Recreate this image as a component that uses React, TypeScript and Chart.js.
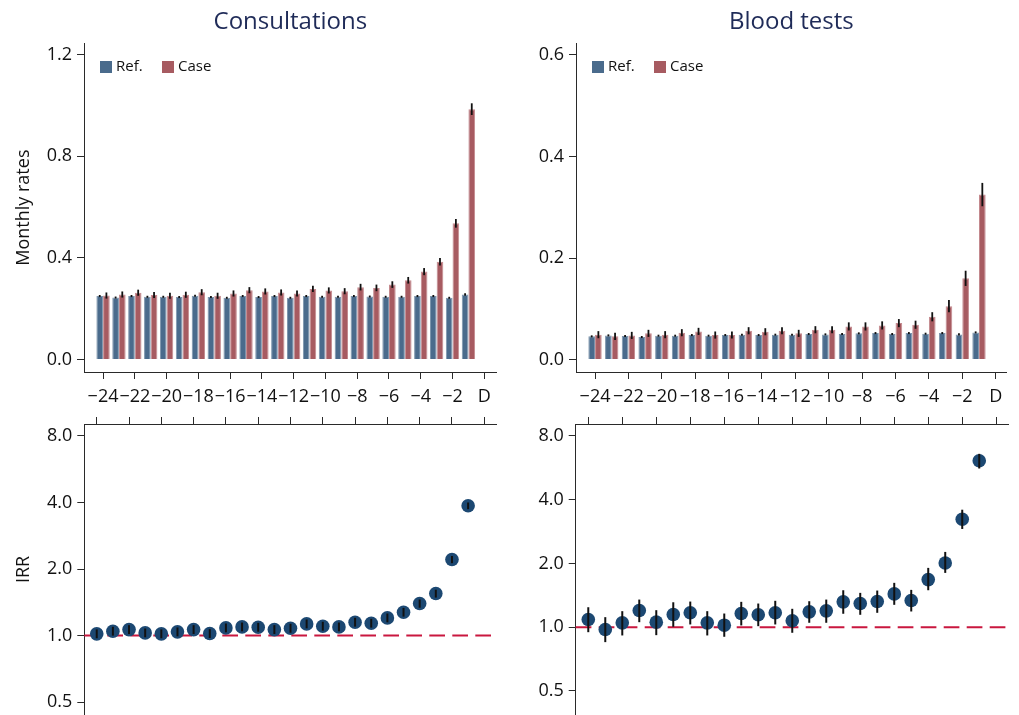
import React, { useEffect, useRef } from 'react';
import { Chart, registerables } from 'chart.js';

Chart.register(...registerables);

const FONT = "'Open Sans', 'Noto Sans', sans-serif";
Chart.defaults.font.family = FONT;

// ---------- data ----------
const months = [-24, -23, -22, -21, -20, -19, -18, -17, -16, -15, -14, -13, -12, -11, -10, -9, -8, -7, -6, -5, -4, -3, -2, -1];
const xTickValues = [-24, -22, -20, -18, -16, -14, -12, -10, -8, -6, -4, -2, 0];
const xTickLabels = ['−24', '−22', '−20', '−18', '−16', '−14', '−12', '−10', '−8', '−6', '−4', '−2', 'D'];
const consRateTicks = [0, 0.4, 0.8, 1.2];
const bloodRateTicks = [0, 0.2, 0.4, 0.6];
const irrTicks = [0.5, 1, 2, 4, 8];

const consRef = [0.250, 0.244, 0.250, 0.247, 0.247, 0.246, 0.251, 0.246, 0.243, 0.250, 0.246, 0.250, 0.243, 0.250, 0.247, 0.247, 0.250, 0.248, 0.247, 0.247, 0.250, 0.250, 0.243, 0.256];
const consRefErr = [0.004, 0.004, 0.004, 0.004, 0.004, 0.004, 0.004, 0.004, 0.004, 0.004, 0.004, 0.004, 0.004, 0.004, 0.004, 0.004, 0.004, 0.004, 0.004, 0.004, 0.004, 0.004, 0.004, 0.005];
const consCase = [0.252, 0.256, 0.263, 0.254, 0.251, 0.255, 0.265, 0.251, 0.260, 0.273, 0.268, 0.264, 0.260, 0.278, 0.272, 0.269, 0.285, 0.282, 0.295, 0.312, 0.346, 0.385, 0.536, 0.985];
const consCaseErr = [0.012, 0.012, 0.012, 0.012, 0.012, 0.012, 0.012, 0.012, 0.012, 0.012, 0.012, 0.012, 0.012, 0.012, 0.012, 0.012, 0.013, 0.013, 0.013, 0.013, 0.014, 0.015, 0.017, 0.023];

const bloodRef = [0.0457, 0.0476, 0.0463, 0.0444, 0.047, 0.047, 0.0483, 0.047, 0.0483, 0.049, 0.0483, 0.049, 0.049, 0.0503, 0.0496, 0.0503, 0.0516, 0.0522, 0.0503, 0.0522, 0.0509, 0.0522, 0.0496, 0.0535];
const bloodRefErr = [0.002, 0.002, 0.002, 0.002, 0.002, 0.002, 0.002, 0.002, 0.002, 0.002, 0.002, 0.002, 0.002, 0.002, 0.002, 0.002, 0.002, 0.002, 0.002, 0.002, 0.002, 0.002, 0.002, 0.002];
const bloodCase = [0.049, 0.0457, 0.0476, 0.0516, 0.049, 0.0529, 0.0555, 0.0483, 0.0483, 0.0568, 0.0548, 0.0568, 0.0516, 0.0588, 0.0588, 0.0653, 0.0653, 0.0673, 0.0718, 0.0686, 0.0843, 0.1052, 0.160, 0.325];
const bloodCaseErr = [0.007, 0.007, 0.007, 0.007, 0.007, 0.007, 0.007, 0.007, 0.007, 0.007, 0.007, 0.007, 0.007, 0.007, 0.007, 0.008, 0.008, 0.008, 0.008, 0.008, 0.009, 0.012, 0.015, 0.023];

const consIRR = [1.018, 1.046, 1.064, 1.028, 1.018, 1.039, 1.064, 1.021, 1.083, 1.094, 1.09, 1.064, 1.079, 1.129, 1.102, 1.094, 1.149, 1.137, 1.202, 1.275, 1.396, 1.549, 2.208, 3.864];
const consIRRLow = [0.972, 0.999, 1.016, 0.982, 0.972, 0.992, 1.016, 0.975, 1.034, 1.045, 1.041, 1.016, 1.030, 1.078, 1.052, 1.045, 1.097, 1.086, 1.148, 1.218, 1.336, 1.485, 2.125, 3.73];
const consIRRHigh = [1.066, 1.095, 1.114, 1.076, 1.066, 1.088, 1.114, 1.069, 1.134, 1.145, 1.141, 1.114, 1.130, 1.182, 1.154, 1.145, 1.203, 1.190, 1.258, 1.333, 1.456, 1.612, 2.29, 4.0];

const bloodIRR = [1.087, 0.975, 1.048, 1.198, 1.056, 1.148, 1.169, 1.048, 1.022, 1.16, 1.144, 1.169, 1.072, 1.181, 1.194, 1.317, 1.293, 1.321, 1.436, 1.336, 1.677, 2.01, 3.23, 6.1];
const bloodIRRLow = [0.947, 0.85, 0.914, 1.056, 0.917, 1.004, 1.03, 0.914, 0.901, 1.019, 1.011, 1.03, 0.941, 1.049, 1.049, 1.157, 1.144, 1.169, 1.275, 1.186, 1.494, 1.804, 2.908, 5.61];
const bloodIRRHigh = [1.242, 1.115, 1.19, 1.35, 1.203, 1.311, 1.321, 1.19, 1.16, 1.317, 1.293, 1.332, 1.221, 1.326, 1.35, 1.494, 1.452, 1.489, 1.619, 1.5, 1.905, 2.266, 3.585, 6.58];

const irrReference = 1;

// ---------- styles ----------
const REF_COLOR = '#4a6b8c';
const REF_EDGE = '#7d95ad';
const CASE_COLOR = '#a75b61';
const CASE_EDGE = '#c48a8f';
const POINT_COLOR = '#1c4872';
const AXIS_COLOR = '#2a2a2a';
const TEXT_COLOR = '#111111';
const TITLE_COLOR = '#1f2b58';
const DASH_COLOR = '#c9173f';
const tickFont = { family: FONT, size: 18 };

// ---------- plugins ----------
const errorBarPlugin = {
  id: 'errorBars',
  afterDatasetsDraw(chart: any) {
    const { ctx } = chart;
    const yScale = chart.scales.y;
    chart.data.datasets.forEach((ds: any, i: number) => {
      if (!ds.errLow) return;
      const meta = chart.getDatasetMeta(i);
      ctx.save();
      ctx.strokeStyle = '#111';
      ctx.lineWidth = ds.errLineWidth || 2;
      meta.data.forEach((el: any, j: number) => {
        const y1 = yScale.getPixelForValue(ds.errLow[j]);
        const y2 = yScale.getPixelForValue(ds.errHigh[j]);
        ctx.beginPath();
        ctx.moveTo(el.x, y1);
        ctx.lineTo(el.x, y2);
        ctx.stroke();
      });
      ctx.restore();
    });
  },
};

const refLinePlugin = {
  id: 'refLine',
  beforeDatasetsDraw(chart: any, _args: any, opts: any) {
    if (!opts || opts.value === undefined) return;
    const { ctx, chartArea } = chart;
    const y = chart.scales.y.getPixelForValue(opts.value);
    ctx.save();
    ctx.strokeStyle = DASH_COLOR;
    ctx.lineWidth = 2;
    ctx.setLineDash([15.7, 7.3]);
    ctx.beginPath();
    ctx.moveTo(chartArea.left, y);
    ctx.lineTo(chartArea.right, y);
    ctx.stroke();
    ctx.restore();
  },
};

const boxLegendPlugin = {
  id: 'boxLegend',
  afterDraw(chart: any, _args: any, opts: any) {
    if (!opts || !opts.offsets) return;
    const { ctx, chartArea } = chart;
    ctx.save();
    ctx.font = `15px ${FONT}`;
    ctx.textBaseline = 'middle';
    ctx.textAlign = 'left';
    chart.data.datasets.forEach((ds: any, i: number) => {
      const x = chartArea.left + opts.offsets[i];
      ctx.fillStyle = ds.backgroundColor;
      ctx.fillRect(x, opts.y - 6, 12, 12);
      ctx.fillStyle = TEXT_COLOR;
      ctx.fillText(ds.label, x + 16, opts.y);
    });
    ctx.restore();
  },
};

// ---------- scale builders ----------
function yLinear(min: number, max: number, ticks: number[], width: number, title?: string) {
  return {
    type: 'linear',
    min,
    max,
    afterBuildTicks: (s: any) => { s.ticks = ticks.map((v) => ({ value: v })); },
    afterFit: (s: any) => { s.width = width; s.paddingTop = 0; s.paddingBottom = 0; },
    ticks: { callback: (v: any) => Number(v).toFixed(1), font: tickFont, color: TEXT_COLOR, padding: 5 },
    grid: { drawOnChartArea: false, drawTicks: true, tickLength: 7, color: AXIS_COLOR, lineWidth: 1 },
    border: { display: true, color: AXIS_COLOR, width: 1 },
    title: title
      ? { display: true, text: title, font: { family: FONT, size: 18 }, color: TEXT_COLOR, padding: { top: 13, bottom: 0 } }
      : { display: false },
  };
}

function yLog(min: number, max: number, width: number, title?: string) {
  return {
    type: 'logarithmic',
    min,
    max,
    afterBuildTicks: (s: any) => { s.ticks = irrTicks.map((v) => ({ value: v })); },
    afterFit: (s: any) => { s.width = width; s.paddingTop = 0; s.paddingBottom = 0; },
    ticks: { callback: (v: any) => Number(v).toFixed(1), font: tickFont, color: TEXT_COLOR, padding: 5 },
    grid: { drawOnChartArea: false, drawTicks: true, tickLength: 7, color: AXIS_COLOR, lineWidth: 1 },
    border: { display: true, color: AXIS_COLOR, width: 1 },
    title: title
      ? { display: true, text: title, font: { family: FONT, size: 18 }, color: TEXT_COLOR, padding: { top: 13, bottom: 0 } }
      : { display: false },
  };
}

function xMonths(min: number, max: number, position: 'bottom' | 'top', height: number, showLabels: boolean) {
  return {
    type: 'linear',
    position,
    min,
    max,
    offset: false,
    afterBuildTicks: (s: any) => { s.ticks = xTickValues.map((v) => ({ value: v })); },
    afterFit: (s: any) => { s.height = height; s.paddingLeft = 0; s.paddingRight = 0; },
    ticks: {
      display: showLabels,
      callback: (_v: any, i: number) => xTickLabels[i],
      autoSkip: false,
      maxRotation: 0,
      minRotation: 0,
      font: tickFont,
      color: TEXT_COLOR,
      padding: 7,
    },
    grid: { offset: false, drawOnChartArea: false, drawTicks: true, tickLength: 7, color: AXIS_COLOR, lineWidth: 1 },
    border: { display: true, color: AXIS_COLOR, width: 1 },
  };
}

function barConfig(opts: {
  title: string; refVals: number[]; refErr: number[]; caseVals: number[]; caseErr: number[];
  xMin: number; xMax: number; yMin: number; yMax: number; yTicks: number[]; yWidth: number; yTitle?: string;
  padRight: number; catPct: number;
}) {
  const mk = (label: string, vals: number[], err: number[], color: string, edge: string) => ({
    label,
    data: months.map((m, i) => ({ x: m, y: vals[i] })),
    backgroundColor: color,
    borderColor: edge,
    borderWidth: 1,
    borderSkipped: 'start',
    categoryPercentage: opts.catPct,
    barPercentage: 1.0,
    errLow: vals.map((v, i) => v - err[i]),
    errHigh: vals.map((v, i) => v + err[i]),
    errLineWidth: 1.8,
  });
  return {
    type: 'bar',
    data: {
      datasets: [
        mk('Ref.', opts.refVals, opts.refErr, REF_COLOR, REF_EDGE),
        mk('Case', opts.caseVals, opts.caseErr, CASE_COLOR, CASE_EDGE),
      ],
    },
    options: {
      animation: false,
      responsive: false,
      maintainAspectRatio: false,
      layout: { padding: { left: 0, right: opts.padRight, top: 0, bottom: 0 }, autoPadding: false },
      plugins: {
        legend: { display: false },
        tooltip: { enabled: false },
        title: {
          display: true,
          text: opts.title,
          fullSize: false,
          color: TITLE_COLOR,
          font: { family: FONT, size: 24, weight: 'normal', lineHeight: 1.2 },
          padding: { top: 7.3, bottom: 7.2 },
        },
        boxLegend: { offsets: [16, 78], y: 67 },
      },
      scales: {
        x: xMonths(opts.xMin, opts.xMax, 'bottom', 40, true),
        y: yLinear(opts.yMin, opts.yMax, opts.yTicks, opts.yWidth, opts.yTitle),
      },
    },
    plugins: [errorBarPlugin, boxLegendPlugin],
  };
}

function irrConfig(opts: {
  vals: number[]; low: number[]; high: number[]; xMin: number; xMax: number;
  yMin: number; yMax: number; yWidth: number; yTitle?: string; padRight: number;
}) {
  return {
    type: 'scatter',
    data: {
      datasets: [
        {
          label: 'IRR',
          data: months.map((m, i) => ({ x: m, y: opts.vals[i] })),
          pointRadius: 6.8,
          pointHoverRadius: 6.8,
          pointBackgroundColor: POINT_COLOR,
          pointBorderWidth: 0,
          showLine: false,
          errLow: opts.low,
          errHigh: opts.high,
          errLineWidth: 2,
        },
      ],
    },
    options: {
      animation: false,
      responsive: false,
      maintainAspectRatio: false,
      layout: { padding: { left: 0, right: opts.padRight, top: 0, bottom: 0 }, autoPadding: false },
      plugins: {
        legend: { display: false },
        tooltip: { enabled: false },
        title: { display: false },
        refLine: { value: irrReference },
      },
      scales: {
        x: xMonths(opts.xMin, opts.xMax, 'top', 12, false),
        y: yLog(opts.yMin, opts.yMax, opts.yWidth, opts.yTitle),
      },
    },
    plugins: [refLinePlugin, errorBarPlugin],
  };
}

function ChartBox({ left, top, width, height, build }: { left: number; top: number; width: number; height: number; build: () => any }) {
  const ref = useRef<HTMLCanvasElement>(null);
  useEffect(() => {
    if (!ref.current) return;
    const chart = new Chart(ref.current, build());
    return () => chart.destroy();
  }, []);
  return (
    <canvas
      ref={ref}
      width={width}
      height={height}
      style={{ position: 'absolute', left, top, width, height, display: 'block' }}
    />
  );
}

export default function App() {
  return (
    <div style={{ position: 'fixed', left: 0, top: 0, width: 1019, height: 715, background: '#ffffff', overflow: 'hidden' }}>
      <ChartBox
        left={0} top={0} width={510} height={412}
        build={() => barConfig({
          title: 'Consultations', refVals: consRef, refErr: consRefErr, caseVals: consCase, caseErr: consCaseErr,
          xMin: -25.2, xMax: 0.78, yMin: -0.0488, yMax: 1.244, yTicks: consRateTicks, yWidth: 84, yTitle: 'Monthly rates',
          padRight: 13.3, catPct: 0.84,
        })}
      />
      <ChartBox
        left={510} top={0} width={509} height={412}
        build={() => barConfig({
          title: 'Blood tests', refVals: bloodRef, refErr: bloodRefErr, caseVals: bloodCase, caseErr: bloodCaseErr,
          xMin: -25.14, xMax: 0.66, yMin: -0.0245, yMax: 0.623, yTicks: bloodRateTicks, yWidth: 66,
          padRight: 12.3, catPct: 0.8,
        })}
      />
      <ChartBox
        left={0} top={412} width={510} height={303}
        build={() => irrConfig({
          vals: consIRR, low: consIRRLow, high: consIRRHigh, xMin: -24.77, xMax: 0.77,
          yMin: 0.437, yMax: 9.06, yWidth: 84.3, yTitle: 'IRR', padRight: 13.3,
        })}
      />
      <ChartBox
        left={510} top={412} width={509} height={303}
        build={() => irrConfig({
          vals: bloodIRR, low: bloodIRRLow, high: bloodIRRHigh, xMin: -24.74, xMax: 0.71,
          yMin: 0.385, yMax: 9.1, yWidth: 65.7, padRight: 10.7,
        })}
      />
    </div>
  );
}
